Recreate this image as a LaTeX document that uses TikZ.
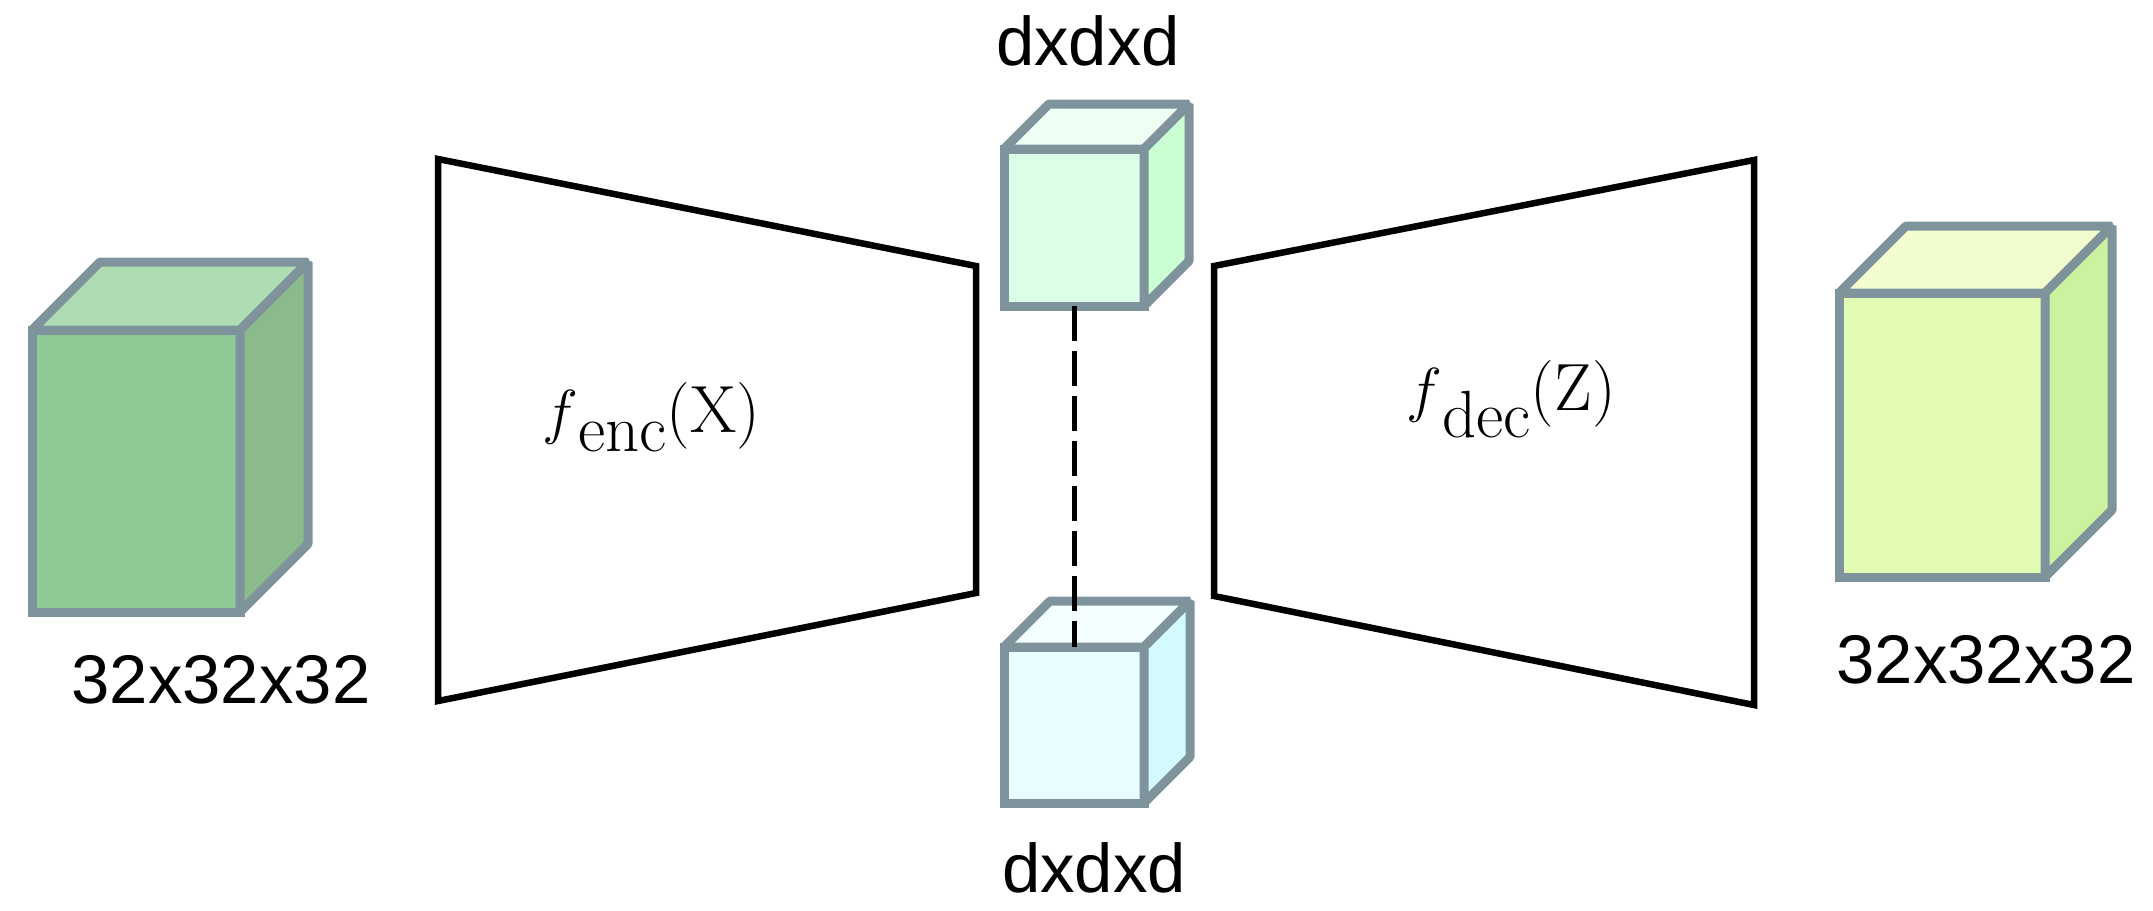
\documentclass[tikz,border=0pt]{standalone}
\usepackage{fontspec}
\newfontfamily\labelfont{Liberation Sans}
\definecolor{cubestroke}{HTML}{7F939D}
\definecolor{gFront}{HTML}{8FCA96}
\definecolor{gTop}{HTML}{AEDDB3}
\definecolor{gSide}{HTML}{8BBA8D}
\definecolor{mFront}{HTML}{DCFDE6}
\definecolor{mTop}{HTML}{EEFFF4}
\definecolor{mSide}{HTML}{C9FFD3}
\definecolor{cFront}{HTML}{E8FDFF}
\definecolor{cTop}{HTML}{F4FFFF}
\definecolor{cSide}{HTML}{D2FAFF}
\definecolor{yFront}{HTML}{E2FDB3}
\definecolor{yTop}{HTML}{F1FDCF}
\definecolor{ySide}{HTML}{CCF2A0}
\tikzset{
  cubeline/.style={draw=cubestroke, line width=0.9mm, line join=bevel},
  cubefront/.style={cubeline, rectangle, inner sep=0pt, outer sep=0pt, line join=miter},
  trapline/.style={draw=black, line width=0.65mm, line join=miter},
  dimlabel/.style={font=\labelfont\fontsize{19.6}{24}\selectfont, anchor=base, inner sep=0pt},
  fnlabel/.style={font=\fontsize{19}{23}\selectfont, anchor=base west, inner sep=0pt},
  latentlink/.style={draw=black, line width=0.5mm, dash pattern=on 3.5mm off 1mm}
}
% #1 name, #2 cx, #3 cy, #4 width, #5 height, #6 depth, #7 front, #8 top, #9 side
\newcommand\drawcube[9]{%
  \node[cubefront, fill=#7, minimum width=#4*0.1mm, minimum height=#5*0.1mm] (#1) at (#2,#3) {};
  \filldraw[cubeline, fill=#8] (#1.north west) -- ([shift={(#6,-#6)}]#1.north west)
     -- ([shift={(#6,-#6)}]#1.north east) -- (#1.north east) -- cycle;
  \filldraw[cubeline, fill=#9] (#1.north east) -- ([shift={(#6,-#6)}]#1.north east)
     -- ([shift={(#6,-#6)}]#1.south east) -- (#1.south east) -- cycle;
}
\begin{document}
\begin{tikzpicture}[x=0.1mm, y=-0.1mm]
\useasboundingbox (0,0) rectangle (2153,910);
% cubes
\drawcube{xin}{136}{471}{208}{282}{68}{gFront}{gTop}{gSide}
\drawcube{zt}{1074}{227.5}{140}{157}{45}{mFront}{mTop}{mSide}
\drawcube{zb}{1074}{725}{140}{156}{46}{cFront}{cTop}{cSide}
\drawcube{xout}{1942}{435}{206}{284}{67}{yFront}{yTop}{ySide}
% latent link
\draw[latentlink] (zt.south) -- (zb.north);
% encoder / decoder
\coordinate (e1) at (438,159);
\coordinate (e2) at (976,266);
\coordinate (e3) at (976,593);
\coordinate (e4) at (438,701);
\draw[trapline] (e1) -- (e2) -- (e3) -- (e4) -- cycle;
\coordinate (d1) at (1214,266);
\coordinate (d2) at (1754,160);
\coordinate (d3) at (1754,705);
\coordinate (d4) at (1214,596);
\draw[trapline] (d1) -- (d2) -- (d3) -- (d4) -- cycle;
\node[fnlabel] (enc) at (542,432) {$f$\raisebox{-1.9mm}{enc}(X)};
\node[fnlabel] (dec) at (1406,410) {$f$\raisebox{-2.7mm}{dec}(Z)};
% labels
\node[dimlabel] (lin) at (221,703) {32x32x32};
\node[dimlabel] (lout) at (1986,683) {32x32x32};
\node[dimlabel] (ltop) at (1088,65) {dxdxd};
\node[dimlabel] (lbot) at (1094,892) {dxdxd};
\end{tikzpicture}
\end{document}
